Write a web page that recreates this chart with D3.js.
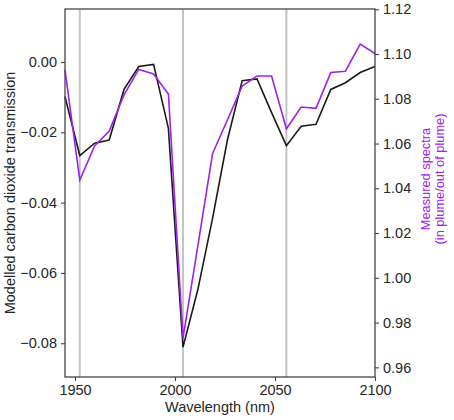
<!DOCTYPE html>
<html>
<head>
<meta charset="utf-8">
<script src="https://cdn.jsdelivr.net/npm/d3@7"></script>
<style>
  html, body { margin: 0; padding: 0; background: #fff; }
  svg text { font-family: "Liberation Sans", Arial, sans-serif; }
</style>
</head>
<body>
<svg id="chart" width="454" height="420"></svg>
<script>
// Band centre wavelengths (nm)
const wavelengths = [1945.0, 1952.4, 1959.8, 1967.1, 1974.5, 1981.9, 1989.3, 1996.7,
  2004.0, 2011.4, 2018.8, 2026.2, 2033.6, 2041.0, 2048.3, 2055.7, 2063.1, 2070.5,
  2077.9, 2085.2, 2092.6, 2100.0];

// Modelled CO2 transmission (left axis)
const modelled = [-0.0099, -0.0266, -0.0231, -0.0222, -0.0078, -0.0013, -0.0007, -0.0189,
  -0.0811, -0.0648, -0.0444, -0.0222, -0.0053, -0.0048, -0.0144, -0.0238, -0.0183, -0.0177,
  -0.0078, -0.0059, -0.0030, -0.0013];

// Measured spectra, in plume / out of plume (right axis)
const measured = [1.0929, 1.0437, 1.0589, 1.0656, 1.0817, 1.0931, 1.0911, 1.0821,
  0.9731, 1.0142, 1.0556, 1.0705, 1.0857, 1.0902, 1.0902, 1.0666, 1.0763, 1.0757,
  1.0917, 1.0923, 1.1044, 1.1002];

// Wavelengths marked with vertical reference lines
const markers = [1952.4, 2004.0, 2055.7];

const xTicks = [1950, 2000, 2050, 2100];
const leftTicks = [0.00, -0.02, -0.04, -0.06, -0.08];
const rightTicks = [0.96, 0.98, 1.00, 1.02, 1.04, 1.06, 1.08, 1.10, 1.12];

const purple = "#a020f0";
const ink = "#262626";
const spine = "#444";

const margin = { left: 65, right: 79, top: 9, bottom: 43 };
const W = 454, H = 420;
const iw = W - margin.left - margin.right;
const ih = H - margin.top - margin.bottom;

const svg = d3.select("#chart");
const g = svg.append("g").attr("transform", `translate(${margin.left},${margin.top})`);

const x = d3.scaleLinear().domain([1945, 2100]).range([0, iw]);
const yL = d3.scaleLinear().domain([-0.0896, 0.01507]).range([ih, 0]);
const yR = d3.scaleLinear().domain([0.9557, 1.1201]).range([ih, 0]);

const fmtMinus = d => d3.format(".2f")(d).replace("-", "\u2212");

// Vertical reference lines
g.selectAll("line.marker").data(markers).join("line")
  .attr("class", "marker")
  .attr("x1", d => x(d)).attr("x2", d => x(d))
  .attr("y1", 0).attr("y2", ih)
  .attr("stroke", "#c4c4c4").attr("stroke-width", 2);

// Series lines
const lineL = d3.line().x((d, i) => x(wavelengths[i])).y(d => yL(d));
const lineR = d3.line().x((d, i) => x(wavelengths[i])).y(d => yR(d));

g.append("path").datum(modelled)
  .attr("d", lineL).attr("fill", "none")
  .attr("stroke", "#1a1a1a").attr("stroke-width", 1.6)
  .attr("stroke-linejoin", "miter");

g.append("path").datum(measured)
  .attr("d", lineR).attr("fill", "none")
  .attr("stroke", purple).attr("stroke-width", 1.6)
  .attr("stroke-linejoin", "miter");

// Axes
function styleAxis(sel) {
  sel.selectAll(".domain").remove();
  sel.selectAll(".tick line").attr("stroke", spine).attr("stroke-width", 1.1);
  sel.selectAll(".tick text").attr("fill", ink)
    .style("font-size", "14.5px")
    .style("font-family", '"Liberation Sans", Arial, sans-serif');
}

g.append("g").attr("transform", `translate(0,${ih})`)
  .call(d3.axisBottom(x).tickValues(xTicks).tickFormat(d3.format("d")).tickSize(4).tickPadding(4))
  .call(styleAxis);

g.append("g")
  .call(d3.axisLeft(yL).tickValues(leftTicks).tickFormat(fmtMinus).tickSize(4).tickPadding(4))
  .call(styleAxis);

g.append("g").attr("transform", `translate(${iw},0)`)
  .call(d3.axisRight(yR).tickValues(rightTicks).tickFormat(d3.format(".2f")).tickSize(4).tickPadding(4))
  .call(styleAxis);

// Frame
g.append("rect").attr("x", 0).attr("y", 0).attr("width", iw).attr("height", ih)
  .attr("fill", "none").attr("stroke", spine).attr("stroke-width", 1.3);

// Axis titles
svg.append("text")
  .attr("x", margin.left + iw / 2).attr("y", 412)
  .attr("text-anchor", "middle").attr("fill", ink)
  .style("font-size", "14.5px")
  .text("Wavelength (nm)");

svg.append("text")
  .attr("transform", `translate(14.5,${margin.top + ih / 2}) rotate(-90)`)
  .attr("text-anchor", "middle").attr("fill", ink)
  .style("font-size", "14.5px")
  .text("Modelled carbon dioxide transmission");

const rTitle = svg.append("text")
  .attr("transform", `translate(430,179) rotate(-90)`)
  .attr("text-anchor", "middle").attr("fill", purple)
  .style("font-size", "12.8px");
rTitle.append("tspan").attr("x", 0).attr("dy", 0).text("Measured spectra");
rTitle.append("tspan").attr("x", 0).attr("dy", 14).text("(in plume/out of plume)");
</script>
</body>
</html>
